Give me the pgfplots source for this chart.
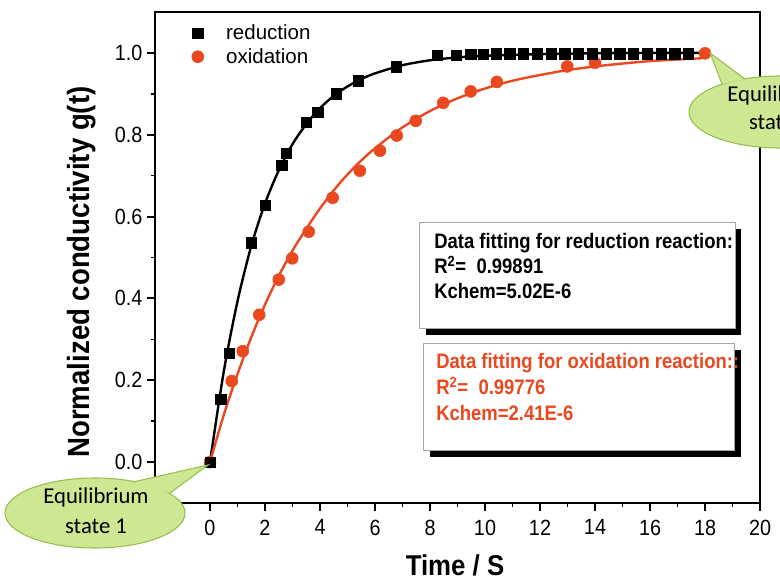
\documentclass[border=0pt]{standalone}
\usepackage{fontspec}
\setmainfont{Liberation Sans}
\newfontfamily\condfont[FakeStretch=0.9]{Liberation Sans}
\newfontfamily\boxfont[FakeStretch=0.88]{Liberation Sans}
\newfontfamily\callfont{Carlito}
\usepackage{pgfplots}
\pgfplotsset{compat=1.18}
\definecolor{oxred}{RGB}{234,72,30}
\definecolor{callfill}{RGB}{206,231,146}
\definecolor{callborder}{RGB}{150,190,80}
\begin{document}
\begin{tikzpicture}
\path[use as bounding box, clip] (0,0) rectangle (585pt,-438pt);
\begin{axis}[
  at={(116.25pt,-377.25pt)}, anchor=south west,
  scale only axis, width=453.75pt, height=368.25pt,
  xmin=-2, xmax=20, ymin=-0.1, ymax=1.1,
  xtick={0,2,...,20}, minor xtick={-1,1,3,5,7,9,11,13,15,17,19},
  ytick={0,0.2,0.4,0.6,0.8,1.0}, minor ytick={0.1,0.3,0.5,0.7,0.9},
  yticklabel style={/pgf/number format/.cd, fixed, fixed zerofill, precision=1},
  xticklabel style={yshift=-3pt},
  /pgf/number format/assume math mode=true,
  axis line style={line width=1.5pt},
  major tick style={line width=1.5pt, black},
  minor tick style={line width=1.2pt, black},
  tick align=outside, tick pos=left,
  major tick length=6pt, minor tick length=3pt,
  tick label style={font=\condfont\fontsize{16.5}{19}\selectfont},
  reverse legend,
  legend style={at={(0.051,0.980)}, anchor=north west, draw=none, fill=none,
    font=\fontsize{15.4}{19}\selectfont, inner sep=0pt, row sep=1pt, cells={anchor=west}},
  legend image code/.code={\draw[#1] plot coordinates {(0.3cm,0cm)}; \path (0cm,0cm) (0.97cm,0cm);},
]
\addplot[forget plot, black, line width=1.8pt, smooth] coordinates {
(0,0) (0.5,0.221) (1,0.393) (1.5,0.528) (2,0.632) (2.5,0.713) (3,0.777) (3.5,0.826)
(4,0.865) (4.5,0.895) (5,0.918) (5.5,0.936) (6,0.950) (7,0.970) (8,0.982) (9,0.989)
(10,0.993) (12,0.997) (14,0.999) (16,1.0) (17.9,1.0)};
\addplot[forget plot, oxred, line width=1.8pt, smooth] coordinates {
(0,0) (0.5,0.115) (1,0.215) (1.5,0.305) (2,0.385) (2.5,0.455) (3,0.517) (3.5,0.570)
(4,0.620) (4.5,0.664) (5,0.703) (5.5,0.737) (6,0.767) (7,0.818) (8,0.858) (9,0.889)
(10,0.913) (11,0.932) (12,0.946) (13,0.958) (14,0.967) (15,0.974) (16,0.980) (17,0.984) (17.9,0.987)};
\addplot[only marks, mark=*, mark size=4.5pt, color=oxred, mark options={draw=oxred, fill=oxred}] coordinates {
(0,0) (0.79,0.198) (1.19,0.271) (1.79,0.360) (2.5,0.446) (2.99,0.498) (3.59,0.563)
(4.46,0.646) (5.45,0.712) (6.18,0.761) (6.79,0.798) (7.48,0.834) (8.48,0.878)
(9.48,0.906) (10.43,0.929) (12.99,0.967) (14.0,0.976) (18.0,0.999)};
\addlegendentry{oxidation}
\addplot[only marks, mark=square*, mark size=3.8pt, color=black] coordinates {
(0,0) (0.39,0.154) (0.69,0.266) (1.49,0.536) (2.0,0.627) (2.61,0.726) (2.76,0.755)
(3.49,0.830) (3.92,0.856) (4.6,0.900) (5.39,0.932) (6.76,0.966) (8.27,0.995)
(8.97,0.995) (9.48,0.997) (9.94,0.997) (10.4,0.998) (10.9,0.998) (11.4,0.998)
(11.9,0.998) (12.4,0.998) (12.9,0.998) (13.4,0.998) (13.9,0.998) (14.4,0.998)
(14.9,0.998) (15.4,0.998) (15.9,0.998) (16.4,0.998) (16.9,0.998) (17.4,0.998)};
\addlegendentry{reduction}
\end{axis}
\begin{scope}[x=0.75pt,y=-0.75pt]
% axis labels
\node[anchor=base, inner sep=0pt, font=\condfont\bfseries\fontsize{21.5}{25}\selectfont] at (455,575) {Time / S};
\node[rotate=90, anchor=base, inner sep=0pt, font=\condfont\bfseries\fontsize{23}{27}\selectfont] at (89,272) {Normalized conductivity g(t)};
% text box 1
\fill[black] (426,229) rectangle (741,335);
\filldraw[fill=white, draw=gray!70, line width=0.6pt] (419,222) rectangle (735,328);
\begin{scope}[every node/.style={anchor=base west, inner sep=0pt, font=\boxfont\bfseries\fontsize{15.75}{19}\selectfont}]
\node at (434,248) {Data fitting for reduction reaction:};
\node at (434,273) {R\textsuperscript{2}=\ \ 0.99891};
\node at (434,298) {Kchem=5.02E-6};
\end{scope}
% text box 2
\fill[black] (430,350) rectangle (741,457);
\filldraw[fill=white, draw=gray!70, line width=0.6pt] (423,343) rectangle (734,450);
\begin{scope}[every node/.style={anchor=base west, inner sep=0pt, text=oxred, font=\boxfont\bfseries\fontsize{15.75}{19}\selectfont}]
\node at (436,368) {Data fitting for oxidation reaction::};
\node at (436,394) {R\textsuperscript{2}=\ \ 0.99776};
\node at (436,420) {Kchem=2.41E-6};
\end{scope}
% callout 1
\fill[callfill] (95,513) ellipse [x radius=67.5pt, y radius=26.25pt];
\draw[callborder, line width=0.8pt] (95,513) ellipse [x radius=67.5pt, y radius=26.25pt];
\fill[callfill] (133,482) -- (208,465) -- (170,493) -- cycle;
\draw[callborder, line width=0.8pt] (133,482) -- (208,465) -- (170,493);
\node[anchor=base, inner sep=0pt, font=\callfont\fontsize{17}{22}\selectfont] at (96,503) {Equilibrium};
\node[anchor=base, inner sep=0pt, font=\callfont\fontsize{17}{22}\selectfont] at (96,533) {state 1};
% callout 2
\fill[callfill] (780,112) ellipse [x radius=68.25pt, y radius=27pt];
\draw[callborder, line width=0.8pt] (780,112) ellipse [x radius=68.25pt, y radius=27pt];
\fill[callfill] (722,84) -- (710,53) -- (745,79) -- cycle;
\draw[callborder, line width=0.8pt] (722,84) -- (710,53) -- (745,79);
\node[anchor=base, inner sep=0pt, font=\callfont\fontsize{17}{22}\selectfont] at (780,102) {Equilibrium};
\node[anchor=base, inner sep=0pt, font=\callfont\fontsize{17}{22}\selectfont] at (780,130) {state 2};
\end{scope}
\end{tikzpicture}
\end{document}
